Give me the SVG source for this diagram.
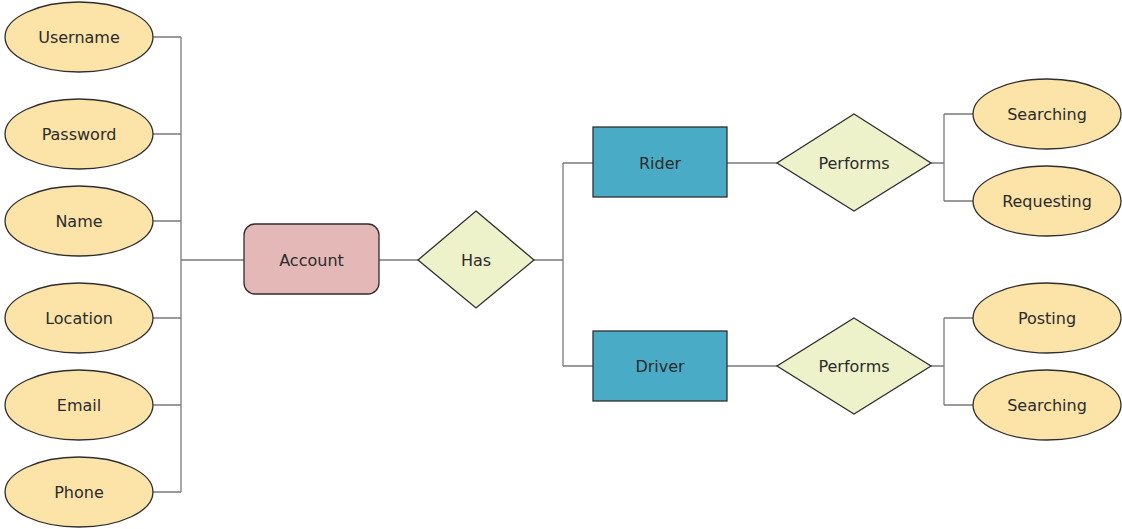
<svg xmlns="http://www.w3.org/2000/svg" width="1122" height="529" viewBox="0 0 1122 529">
  <style>
    .attr { fill: #fce4a9; stroke: #2e2e2e; stroke-width: 1.3; }
    .ent { fill: #4aabc6; stroke: #2e2e2e; stroke-width: 1.3; }
    .acct { fill: #e5b8b8; stroke: #2e2e2e; stroke-width: 1.3; }
    .rel { fill: #eef2cb; stroke: #2e2e2e; stroke-width: 1.3; }
    .wire { fill: none; stroke: #7a7a7a; stroke-width: 1.3; }
    text { font-family: "DejaVu Sans", Verdana, sans-serif; font-size: 16px; fill: #2b2b2b; text-anchor: middle; dominant-baseline: central; }
  </style>
  <rect width="1122" height="529" fill="#ffffff"/>

  <g id="connectors">
    <!-- account attributes bus -->
    <path class="wire" d="M153 37H181M153 134H181M153 221H181M153 318H181M153 405H181M153 492H181M181 37V492M181 260H244"/>
    <path class="wire" d="M379 260H418"/>
    <path class="wire" d="M534 260H563M563 163V366M563 163H593M563 366H593"/>
    <path class="wire" d="M727 163H777M727 366H777"/>
    <path class="wire" d="M931 163H944M944 114V201M944 114H974M944 201H974"/>
    <path class="wire" d="M931 366H944M944 318V405M944 318H974M944 405H974"/>
  </g>

  <g id="attr-username"><ellipse class="attr" cx="79" cy="37" rx="74" ry="35"/><text x="79" y="37">Username</text></g>
  <g id="attr-password"><ellipse class="attr" cx="79" cy="134" rx="74" ry="35"/><text x="79" y="134">Password</text></g>
  <g id="attr-name"><ellipse class="attr" cx="79" cy="221" rx="74" ry="35"/><text x="79" y="221">Name</text></g>
  <g id="attr-location"><ellipse class="attr" cx="79" cy="318" rx="74" ry="35"/><text x="79" y="318">Location</text></g>
  <g id="attr-email"><ellipse class="attr" cx="79" cy="405" rx="74" ry="35"/><text x="79" y="405">Email</text></g>
  <g id="attr-phone"><ellipse class="attr" cx="79" cy="492" rx="74" ry="35"/><text x="79" y="492">Phone</text></g>

  <g id="account"><rect class="acct" x="244" y="224" width="135" height="70" rx="11"/><text x="311.5" y="260">Account</text></g>
  <g id="has"><polygon class="rel" points="476,211 534,260 476,308 418,260"/><text x="476" y="260">Has</text></g>

  <g id="rider"><rect class="ent" x="593" y="127" width="134" height="70"/><text x="660" y="163">Rider</text></g>
  <g id="driver"><rect class="ent" x="593" y="331" width="134" height="70"/><text x="660" y="366">Driver</text></g>

  <g id="rider-performs"><polygon class="rel" points="854,114 931,163 854,211 777,163"/><text x="854" y="163">Performs</text></g>
  <g id="driver-performs"><polygon class="rel" points="854,318 931,366 854,414 777,366"/><text x="854" y="366">Performs</text></g>

  <g id="attr-rider-searching"><ellipse class="attr" cx="1047" cy="114" rx="74" ry="35"/><text x="1047" y="114">Searching</text></g>
  <g id="attr-requesting"><ellipse class="attr" cx="1047" cy="201" rx="74" ry="35"/><text x="1047" y="201">Requesting</text></g>
  <g id="attr-posting"><ellipse class="attr" cx="1047" cy="318" rx="74" ry="35"/><text x="1047" y="318">Posting</text></g>
  <g id="attr-driver-searching"><ellipse class="attr" cx="1047" cy="405" rx="74" ry="35"/><text x="1047" y="405">Searching</text></g>
</svg>
